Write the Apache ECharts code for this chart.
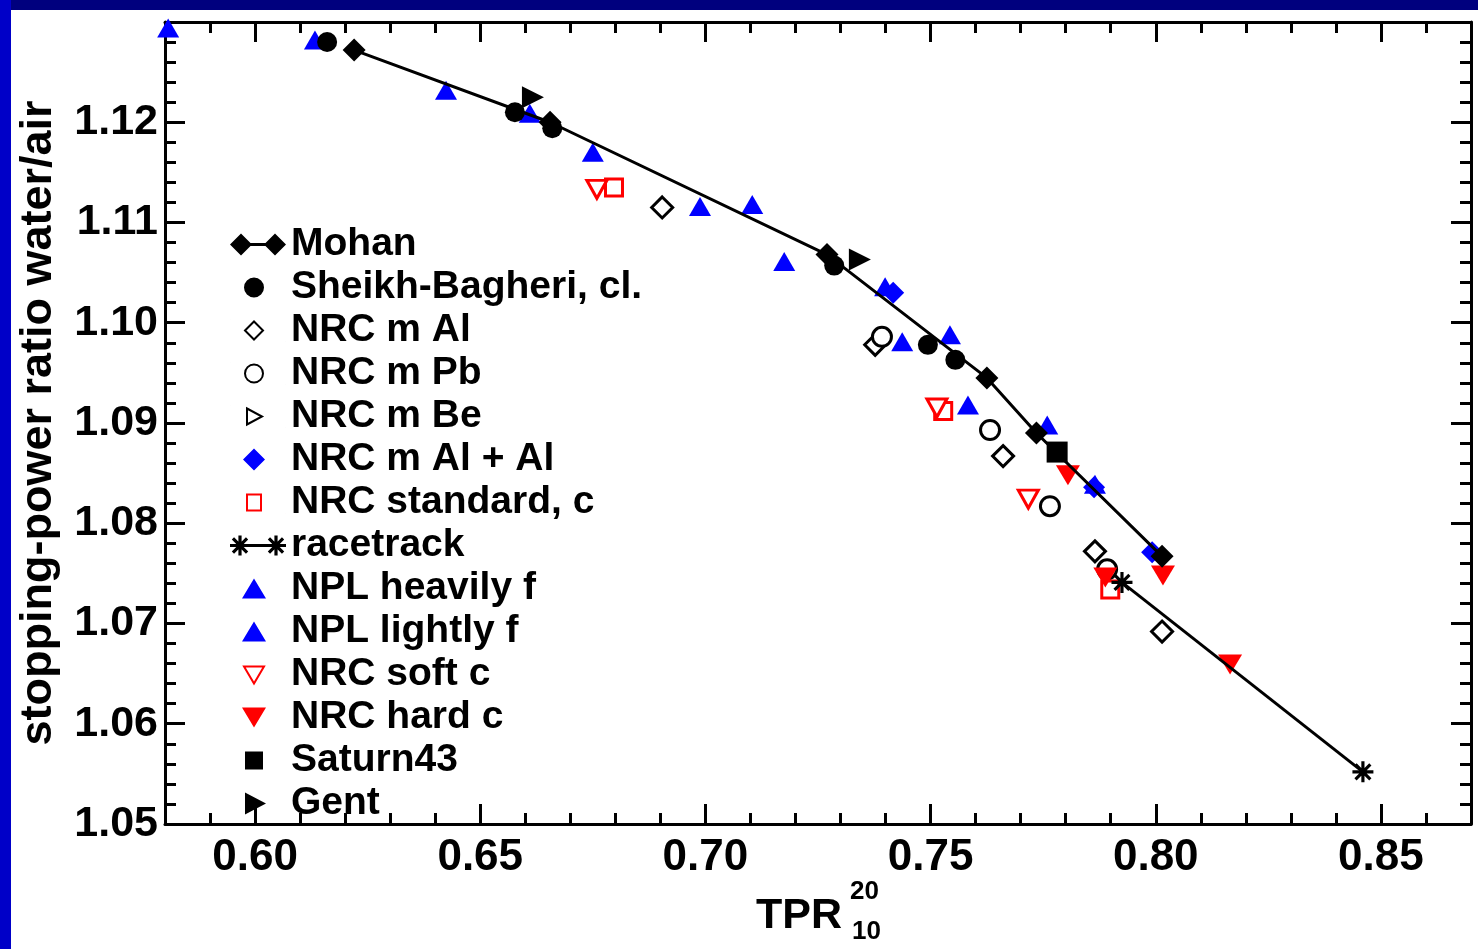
<!DOCTYPE html>
<html>
<head>
<meta charset="utf-8">
<script src="https://cdn.jsdelivr.net/npm/echarts@6/dist/echarts.min.js"></script>
<style>
  html, body { margin: 0; padding: 0; background: #ffffff; }
  #frameTop { position: absolute; left: 0; top: 0; width: 1478px; height: 10px; background: #00007e; }
  #frameLeft { position: absolute; left: 0; top: 0; width: 11px; height: 949px; background: #0000c8; }
  #chart { position: absolute; left: 0; top: 0; width: 1478px; height: 949px; }
</style>
</head>
<body>
<div id="frameTop"></div>
<div id="frameLeft"></div>
<div id="chart"></div>
<script>
// ---- tick values ----
const xMajorTicks = [0.60, 0.65, 0.70, 0.75, 0.80, 0.85];
const xMinorTicks = [0.58, 0.59, 0.61, 0.62, 0.63, 0.64, 0.66, 0.67, 0.68, 0.69, 0.71, 0.72, 0.73, 0.74,
                     0.76, 0.77, 0.78, 0.79, 0.81, 0.82, 0.83, 0.84, 0.86, 0.87];
const yMajorTicks = [1.05, 1.06, 1.07, 1.08, 1.09, 1.10, 1.11, 1.12];
const yMinorTicks = [1.052, 1.054, 1.056, 1.058, 1.062, 1.064, 1.066, 1.068, 1.072, 1.074, 1.076, 1.078,
                     1.082, 1.084, 1.086, 1.088, 1.092, 1.094, 1.096, 1.098, 1.102, 1.104, 1.106, 1.108,
                     1.112, 1.114, 1.116, 1.118, 1.122, 1.124, 1.126, 1.128];

// ---- series data: [TPR20/10, stopping-power ratio] ----
const mohan      = [[0.6220, 1.1272], [0.6655, 1.1200], [0.7270, 1.1068], [0.7625, 1.0945], [0.7735, 1.0890], [0.8014, 1.0767]];
const sheikh     = [[0.6160, 1.1280], [0.6577, 1.1210], [0.6660, 1.1194], [0.7286, 1.1057], [0.7494, 1.0978], [0.7555, 1.0963]];
const nrcMAl     = [[0.6904, 1.1115], [0.7377, 1.0978], [0.7661, 1.0867], [0.7865, 1.0772], [0.8014, 1.0692]];
const nrcMPb     = [[0.7392, 1.0986], [0.7632, 1.0893], [0.7765, 1.0817], [0.7892, 1.0754]];
const nrcMBe     = [];
const nrcMAlAl   = [[0.7417, 1.1030], [0.7863, 1.0836], [0.7992, 1.0771]];
const nrcStd     = [[0.6797, 1.1135], [0.7528, 1.0912], [0.7899, 1.0734]];
const racetrack  = [[0.7925, 1.0741], [0.8460, 1.0552]];
const nplHeavy   = [[0.5807, 1.1294], [0.6424, 1.1232], [0.6750, 1.1170], [0.7104, 1.1118], [0.7175, 1.1061], [0.7437, 1.0981], [0.7583, 1.0918]];
const nplLight   = [[0.6133, 1.1282], [0.6610, 1.1209], [0.6988, 1.1116], [0.7399, 1.1036], [0.7543, 1.0988], [0.7759, 1.0898], [0.7865, 1.0839]];
const nrcSoft    = [[0.6759, 1.1133], [0.7514, 1.0915], [0.7717, 1.0824]];
const nrcHard    = [[0.7805, 1.0848], [0.7888, 1.0746], [0.8016, 1.0748], [0.8165, 1.0659]];
const saturn43   = [[0.7781, 1.0871]];
const gent       = [[0.6617, 1.1225], [0.7343, 1.1063]];

const legendNames = ['Mohan', 'Sheikh-Bagheri, cl.', 'NRC m Al', 'NRC m Pb', 'NRC m Be', 'NRC m Al + Al',
                     'NRC standard, c', 'racetrack', 'NPL heavily f', 'NPL lightly f', 'NRC soft c', 'NRC hard c',
                     'Saturn43', 'Gent'];

const FONT = 'Liberation Sans, Arial, Helvetica, sans-serif';
const BLACK = '#000000', BLUE = '#0000ff', RED = '#ff0000';
const asterisk = 'path://M-1.5,-10L1.5,-10L1.5,10L-1.5,10Z M-10,-1.5L10,-1.5L10,1.5L-10,1.5Z ' +
                 'M6.01,-8.13L8.13,-6.01L-6.01,8.13L-8.13,6.01Z M-8.13,-6.01L-6.01,-8.13L8.13,6.01L6.01,8.13Z';

// legend icon shapes drawn in a 56 x 22 box (two zero-area anchors keep the box size)
const BOX = 'M0,0L0.01,0Z M56,22L55.99,22Z ';
function astAt(cx, cy, r, w) {
  const d = r * 0.7071, e = w * 0.7071;
  return `M${cx - w},${cy - r}L${cx + w},${cy - r}L${cx + w},${cy + r}L${cx - w},${cy + r}Z ` +
         `M${cx - r},${cy - w}L${cx + r},${cy - w}L${cx + r},${cy + w}L${cx - r},${cy + w}Z ` +
         `M${cx + d - e},${cy - d - e}L${cx + d + e},${cy - d + e}L${cx - d + e},${cy + d + e}L${cx - d - e},${cy + d - e}Z ` +
         `M${cx - d - e},${cy - d + e}L${cx - d + e},${cy - d - e}L${cx + d + e},${cy + d - e}L${cx + d - e},${cy + d + e}Z `;
}
const legendIcons = {
  'Mohan': BOX + 'M0,11L11,0L22,11L11,22Z M20,9.5L36,9.5L36,12.5L20,12.5Z M34,11L45,0L56,11L45,22Z',
  'Sheikh-Bagheri, cl.': BOX + 'M14,11A10,10 0 1,0 34,11A10,10 0 1,0 14,11Z',
  'NRC m Al': BOX + 'M15,11L24,2L33,11L24,20Z',
  'NRC m Pb': BOX + 'M15,11A9,9 0 1,0 33,11A9,9 0 1,0 15,11Z',
  'NRC m Be': BOX + 'M17,3L32,11L17,19Z',
  'NRC m Al + Al': BOX + 'M13,11L24,0L35,11L24,22Z',
  'NRC standard, c': BOX + 'M17,3L31,3L31,19L17,19Z',
  'racetrack': BOX + astAt(10, 11, 10, 1.6) + 'M18,9.5L38,9.5L38,12.5L18,12.5Z ' + astAt(46, 11, 10, 1.6),
  'NPL heavily f': BOX + 'M12,21L24,1L36,21Z',
  'NPL lightly f': BOX + 'M12,21L24,1L36,21Z',
  'NRC soft c': BOX + 'M14,3L34,3L24,20Z',
  'NRC hard c': BOX + 'M12,1L36,1L24,21Z',
  'Saturn43': BOX + 'M15,2L33,2L33,20L15,20Z',
  'Gent': BOX + 'M15,0L36,11L15,22Z'
};

const XMIN = 0.58, XMAX = 0.87, YMIN = 1.05, YMAX = 1.13;

function xAxisDef(pos, ticks, len, withLabel, withLine) {
  return {
    type: 'value', min: XMIN, max: XMAX, position: pos,
    axisLine: { show: withLine, onZero: false, lineStyle: { color: BLACK, width: 3 } },
    axisTick: { show: true, inside: true, length: len, customValues: ticks, lineStyle: { color: BLACK, width: 3 } },
    axisLabel: withLabel ? { show: true, customValues: ticks, formatter: v => v.toFixed(2), color: BLACK,
                 fontSize: 44, fontWeight: 'bold', fontFamily: FONT, margin: 12 } : { show: false },
    splitLine: { show: false }
  };
}
function yAxisDef(pos, ticks, len, withLabel, withLine, extra) {
  return Object.assign({
    type: 'value', min: YMIN, max: YMAX, position: pos,
    axisLine: { show: withLine, onZero: false, lineStyle: { color: BLACK, width: 3 } },
    axisTick: { show: true, inside: true, length: len, customValues: ticks, lineStyle: { color: BLACK, width: 3 } },
    axisLabel: withLabel ? { show: true, customValues: ticks, formatter: v => v.toFixed(2), color: BLACK,
                 fontSize: 43, fontWeight: 'bold', fontFamily: FONT, margin: 7 } : { show: false },
    splitLine: { show: false }
  }, extra || {});
}

const solid = (c) => ({ color: c, opacity: 1 });
const open = (c) => ({ color: '#ffffff', borderColor: c, borderWidth: 3, opacity: 1 });

const option = {
  animation: false,
  backgroundColor: 'transparent',
  grid: { left: 165, right: 7, top: 22, bottom: 125, containLabel: false },
  title: [
    { text: 'TPR', left: 756, top: 895, padding: 0, textStyle: { fontSize: 43, fontWeight: 'bold', color: BLACK, fontFamily: FONT } },
    { text: '20', left: 850, top: 879, padding: 0, textStyle: { fontSize: 26, fontWeight: 'bold', color: BLACK, fontFamily: FONT } },
    { text: '10', left: 852, top: 919, padding: 0, textStyle: { fontSize: 26, fontWeight: 'bold', color: BLACK, fontFamily: FONT } }
  ],
  legend: {
    orient: 'vertical', left: 224, top: 220,
    itemWidth: 56, itemHeight: 22, itemGap: 4,
    textStyle: { fontSize: 39, fontWeight: 'bold', color: BLACK, fontFamily: FONT, lineHeight: 36 },
    data: legendNames.map(n => ({ name: n, icon: 'path://' + legendIcons[n] }))
  },
  xAxis: [
    xAxisDef('bottom', xMajorTicks, 20, true, true),
    xAxisDef('bottom', xMinorTicks, 11, false, false),
    xAxisDef('top', xMajorTicks, 20, false, true),
    xAxisDef('top', xMinorTicks, 11, false, false)
  ],
  yAxis: [
    yAxisDef('left', yMajorTicks, 20, true, true, {
      name: 'stopping-power ratio water/air', nameLocation: 'middle', nameGap: 104,
      nameTextStyle: { fontSize: 45, fontWeight: 'bold', color: BLACK, fontFamily: FONT }
    }),
    yAxisDef('left', yMinorTicks, 11, false, false),
    yAxisDef('right', yMajorTicks, 20, false, true),
    yAxisDef('right', yMinorTicks, 11, false, false)
  ],
  series: [
    { name: 'NPL heavily f', type: 'scatter', data: nplHeavy, symbol: 'triangle', symbolSize: [22, 19], itemStyle: solid(BLUE) },
    { name: 'NPL lightly f', type: 'scatter', data: nplLight, symbol: 'triangle', symbolSize: [22, 19], itemStyle: solid(BLUE) },
    { name: 'Sheikh-Bagheri, cl.', type: 'scatter', data: sheikh, symbol: 'circle', symbolSize: 20, itemStyle: solid(BLACK) },
    { name: 'NRC m Al', type: 'scatter', data: nrcMAl, symbol: 'diamond', symbolSize: 21, itemStyle: open(BLACK) },
    { name: 'NRC m Pb', type: 'scatter', data: nrcMPb, symbol: 'circle', symbolSize: 19, itemStyle: open(BLACK) },
    { name: 'NRC m Be', type: 'scatter', data: nrcMBe, symbol: 'triangle', symbolRotate: -90, symbolSize: [16, 16], itemStyle: open(BLACK) },
    { name: 'NRC m Al + Al', type: 'scatter', data: nrcMAlAl, symbol: 'diamond', symbolSize: 22, itemStyle: solid(BLUE) },
    { name: 'NRC standard, c', type: 'scatter', data: nrcStd, symbol: 'rect', symbolSize: 17, itemStyle: open(RED) },
    { name: 'NRC soft c', type: 'scatter', data: nrcSoft, symbol: 'triangle', symbolRotate: 180, symbolSize: [20, 18], itemStyle: open(RED) },
    { name: 'NRC hard c', type: 'scatter', data: nrcHard, symbol: 'triangle', symbolRotate: 180, symbolSize: [24, 20], itemStyle: solid(RED) },
    { name: 'Saturn43', type: 'scatter', data: saturn43, symbol: 'rect', symbolSize: 21, itemStyle: solid(BLACK) },
    { name: 'Gent', type: 'scatter', data: gent, symbol: 'triangle', symbolRotate: -90, symbolSize: [22, 22], itemStyle: solid(BLACK) },
    { name: 'Mohan', type: 'line', data: mohan, symbol: 'diamond', symbolSize: 23, showSymbol: true,
      lineStyle: { color: BLACK, width: 3 }, itemStyle: solid(BLACK), z: 3 },
    { name: 'racetrack', type: 'line', data: racetrack, symbol: asterisk, symbolSize: 21, showSymbol: true,
      lineStyle: { color: BLACK, width: 3 }, itemStyle: solid(BLACK), z: 3 }
  ]
};

const chart = echarts.init(document.getElementById('chart'), null, { renderer: 'canvas' });
chart.setOption(option);
</script>
</body>
</html>
